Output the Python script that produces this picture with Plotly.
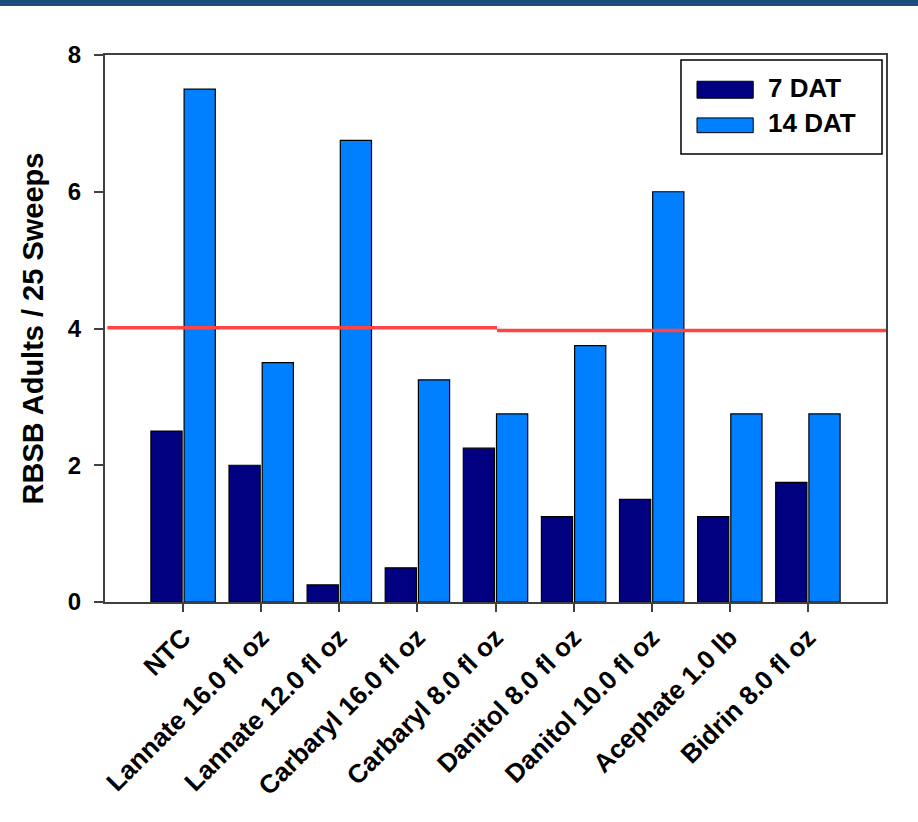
import plotly.graph_objects as go

categories = ["NTC", "Lannate 16.0 fl oz", "Lannate 12.0 fl oz", "Carbaryl 16.0 fl oz",
              "Carbaryl 8.0 fl oz", "Danitol 8.0 fl oz", "Danitol 10.0 fl oz",
              "Acephate 1.0 lb", "Bidrin 8.0 fl oz"]
dat7 = [2.5, 2.0, 0.25, 0.5, 2.25, 1.25, 1.5, 1.25, 1.75]
dat14 = [7.5, 3.5, 6.75, 3.25, 2.75, 3.75, 6.0, 2.75, 2.75]
series_names = ["7 DAT", "14 DAT"]
y_ticks = [0, 2, 4, 6, 8]
threshold = 4.0

xpos = list(range(1, len(categories) + 1))

FONT = "Arial, Liberation Sans, sans-serif"
C7 = "#000080"
C14 = "#0080ff"

fig = go.Figure()
fig.add_trace(go.Bar(x=xpos, y=dat7, name=series_names[0], marker=dict(color=C7, line=dict(color="black", width=1.2)),
                     showlegend=False))
fig.add_trace(go.Bar(x=xpos, y=dat14, name=series_names[1], marker=dict(color=C14, line=dict(color="black", width=1.2)),
                     showlegend=False))

# threshold line (slightly stepped as in the original drawing)
fig.add_trace(go.Scatter(x=[0.03, 5.02], y=[threshold + 0.01, threshold + 0.01], mode="lines",
                         line=dict(color="#ff4444", width=3.5), showlegend=False, cliponaxis=False, hoverinfo="skip"))
fig.add_trace(go.Scatter(x=[5.02, 10.07], y=[threshold - 0.03, threshold - 0.03], mode="lines",
                         line=dict(color="#ff4444", width=3.5), showlegend=False, cliponaxis=False, hoverinfo="skip"))

shapes = [
    # top banner strip
    dict(type="rect", xref="paper", yref="paper", x0=-0.2, x1=1.1, y0=1.0895, y1=1.12,
         fillcolor="#1f4a7e", line=dict(width=0), layer="above"),
    # legend box
    dict(type="rect", xref="paper", yref="paper", x0=0.7375, x1=0.9949, y0=0.819, y1=0.9909,
         fillcolor="white", line=dict(color="black", width=1.5), layer="above"),
    dict(type="rect", xref="paper", yref="paper", x0=0.758, x1=0.830, y0=0.921, y1=0.952,
         fillcolor=C7, line=dict(color="black", width=1), layer="above"),
    dict(type="rect", xref="paper", yref="paper", x0=0.758, x1=0.830, y0=0.858, y1=0.885,
         fillcolor=C14, line=dict(color="black", width=1), layer="above"),
]
annotations = [
    dict(xref="paper", yref="paper", x=0.846, y=0.9395, xanchor="left", yanchor="middle",
         text="<b>" + series_names[0] + "</b>", showarrow=False, font=dict(family=FONT, size=26, color="black")),
    dict(xref="paper", yref="paper", x=0.846, y=0.8756, xanchor="left", yanchor="middle",
         text="<b>" + series_names[1] + "</b>", showarrow=False, font=dict(family=FONT, size=26, color="black")),
]

fig.update_layout(
    width=918, height=822,
    margin=dict(l=105, r=32, t=55, b=220),
    paper_bgcolor="white", plot_bgcolor="white",
    barmode="group", bargap=0.15, bargroupgap=0.06,
    shapes=shapes, annotations=annotations,
    font=dict(family=FONT, color="black"),
    xaxis=dict(range=[0, 10], tickmode="array", tickvals=xpos,
               ticktext=["<b>" + c + "</b>" for c in categories],
               tickangle=-45, tickfont=dict(family=FONT, size=26, color="black"),
               ticks="outside", ticklen=8, tickwidth=1.5, tickcolor="#404040",
               showline=True, linecolor="#404040", linewidth=2, mirror=True,
               showgrid=False, zeroline=False),
    yaxis=dict(range=[0, 8], tickmode="array", tickvals=y_ticks,
               ticktext=["<b>%d</b>" % v for v in y_ticks],
               tickfont=dict(family=FONT, size=24, color="black"),
               ticks="outside", ticklen=9, tickwidth=1.5, tickcolor="#404040",
               ticklabelstandoff=8,
               showline=True, linecolor="#404040", linewidth=2, mirror=True,
               showgrid=False, zeroline=False,
               title=dict(text="<b>RBSB Adults / 25 Sweeps</b>", font=dict(family=FONT, size=29, color="black"),
                          standoff=16)),
)

fig.write_html("out.html", post_script="document.body.style.margin='0';",
               config={"displayModeBar": False})
